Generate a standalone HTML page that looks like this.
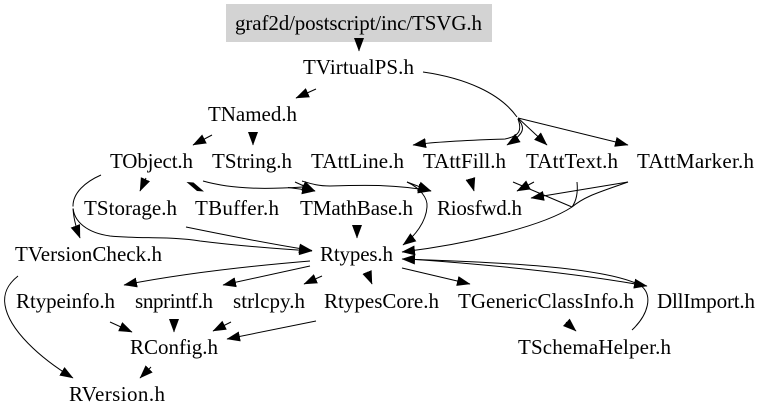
<!DOCTYPE html>
<html>
<head>
<meta charset="utf-8">
<style>
html,body{margin:0;padding:0;background:#fff;width:768px;height:420px;overflow:hidden}
svg{display:block}
text{font-family:"Liberation Serif","Times New Roman",serif;font-size:21px;fill:#000}
.e{fill:none;stroke:#000;stroke-width:1;marker-end:url(#a)}
.n{fill:none;stroke:#000;stroke-width:1}
</style>
</head>
<body>
<svg width="768" height="420" viewBox="0 0 768 420" xmlns="http://www.w3.org/2000/svg">
<defs>
<marker id="a" markerWidth="14" markerHeight="11" refX="13" refY="5.5" orient="auto" markerUnits="userSpaceOnUse">
<path d="M0 .5L13.5 5.5L0 10.5z" fill="#000"/>
</marker>
</defs>
<rect x="226" y="4" width="266" height="38" fill="#d3d3d3"/>

<!-- edges -->
<path class="e" d="M359 39L359 51"/>
<path class="e" d="M316 89L296 98"/>
<path class="e" d="M212 135L193 145"/>
<path class="e" d="M253 133L253 145"/>
<path class="e" d="M146 178L140 191"/>
<polygon points="186.5,182 193.5,182.5 204,191.5 197,191"/>
<path class="n" d="M203 181C235 190 270 189 303 187"/>
<path class="e" d="M288 187.500L315 191"/>
<path class="e" d="M302 181C312 184 318 186 330 186C360 185 395 184 431 191"/>
<path class="e" d="M295 182L315 191"/>
<path class="e" d="M407 182L431 191"/>
<path class="e" d="M407 182C420 188 428 198 427 207C426 222 415 236 403 245"/>

<!-- TObject -> TVersionCheck / Rtypes -->
<path class="e" d="M101 175C85 182 73 193 73 206C73 216 75 225 80 238"/>
<path class="e" d="M73 206C73 222 88 233 110 236C140 239 170 236 200 241C240 246 280 249 312 251"/>
<path d="M71 207.500H75" stroke="#fff" stroke-width="2"/>
<path class="e" d="M186 227C230 236 270 244 312 250.500"/>
<path class="e" d="M357 225L357 238"/>

<path class="e" d="M470.500 179L474 191"/>
<path class="e" d="M534 182L517 191"/>
<path class="e" d="M628 182L531 198"/>

<path class="n" d="M513 182L572 207"/>
<path class="n" d="M577 182C578 192 577 200 572 207"/>
<path class="n" d="M628 182C600 192 585 196 572 207"/>
<path class="e" d="M572 207C540 228 460 245 402 252"/>

<path class="e" d="M632 330C648 315 654 295 640 285C600 265 480 262 402 259"/>
<path class="e" d="M409 259C480 264 570 272 647 286"/>
<path class="e" d="M402 268L470 284"/>
<path class="e" d="M566 322L576 331"/>
<path class="e" d="M367 272L372 284"/>
<path class="e" d="M322 276L304 284"/>
<path class="e" d="M310 266L223 285"/>
<path class="e" d="M310 261C250 266 180 274 124 285"/>
<path class="e" d="M110 322L132 332"/>
<path class="e" d="M174 319L174 332"/>
<path class="e" d="M231 322L213 331"/>
<path class="e" d="M316 321L227 339"/>
<path class="e" d="M151 367L140 378"/>
<path class="e" d="M18 276C8 284 3 293 5 305C9 330 40 358 73 378"/>

<!-- TVirtualPS fan -->
<path class="n" d="M423 72C465 78 500 93 517 117"/>
<path class="e" d="M518 118L628 145"/>
<path class="e" d="M518 118L547 145"/>
<path class="e" d="M518 119C526 128 524 134 507 145"/>
<path class="e" d="M518 119C522 130 520 136 505 139C480 140 440 141 413 145"/>

<!-- labels -->
<text x="235" y="30" textLength="247" lengthAdjust="spacing">graf2d/postscript/inc/TSVG.h</text>
<text x="303" y="74" textLength="111" lengthAdjust="spacing">TVirtualPS.h</text>
<text x="208" y="121" textLength="89" lengthAdjust="spacing">TNamed.h</text>
<text x="110" y="168" textLength="83" lengthAdjust="spacing">TObject.h</text>
<text x="212" y="168" textLength="80" lengthAdjust="spacing">TString.h</text>
<text x="311" y="168" textLength="93" lengthAdjust="spacing">TAttLine.h</text>
<text x="423" y="168" textLength="83" lengthAdjust="spacing">TAttFill.h</text>
<text x="526" y="168" textLength="92" lengthAdjust="spacing">TAttText.h</text>
<text x="637" y="168" textLength="117" lengthAdjust="spacing">TAttMarker.h</text>
<text x="84" y="215" textLength="93" lengthAdjust="spacing">TStorage.h</text>
<text x="195" y="215" textLength="84" lengthAdjust="spacing">TBuffer.h</text>
<text x="300" y="215" textLength="113" lengthAdjust="spacing">TMathBase.h</text>
<text x="437" y="215" textLength="85" lengthAdjust="spacing">Riosfwd.h</text>
<text x="15" y="261" textLength="147" lengthAdjust="spacing">TVersionCheck.h</text>
<text x="320" y="261" textLength="73" lengthAdjust="spacing">Rtypes.h</text>
<text x="16" y="308" textLength="99" lengthAdjust="spacing">Rtypeinfo.h</text>
<text x="135" y="308" textLength="78" lengthAdjust="spacing">snprintf.h</text>
<text x="233" y="308" textLength="72" lengthAdjust="spacing">strlcpy.h</text>
<text x="324" y="308" textLength="115" lengthAdjust="spacing">RtypesCore.h</text>
<text x="458" y="308" textLength="176" lengthAdjust="spacing">TGenericClassInfo.h</text>
<text x="657" y="308" textLength="98" lengthAdjust="spacing">DllImport.h</text>
<text x="130" y="354" textLength="88" lengthAdjust="spacing">RConfig.h</text>
<text x="518" y="354" textLength="153" lengthAdjust="spacing">TSchemaHelper.h</text>
<text x="69" y="401" textLength="96" lengthAdjust="spacing">RVersion.h</text>
</svg>
</body>
</html>
